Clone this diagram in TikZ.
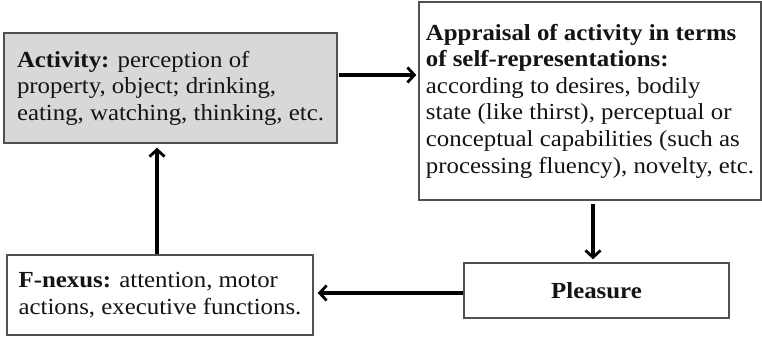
\documentclass[tikz,border=0pt]{standalone}
\usepackage{fontspec}
\setmainfont[FakeStretch=1.08]{Liberation Serif}
\usetikzlibrary{arrows.meta}
\definecolor{boxgray}{RGB}{216,216,216}
\definecolor{edgegray}{RGB}{80,80,80}
\definecolor{txt}{RGB}{20,20,20}
\tikzset{
  boxnode/.style={draw=edgegray, line width=1.4pt, align=left, inner sep=1pt,
    text=txt, font=\fontsize{23}{26.6}\selectfont},
  arr/.style={draw=black, line width=3.4pt, -{Straight Barb[length=7pt,width=15pt,line width=2.8pt]}}
}
\begin{document}
\begin{tikzpicture}[x=1pt,y=-1pt]
\useasboundingbox (0,0) rectangle (762,337);
\node[boxnode, fill=boxgray, minimum width=333pt, minimum height=110pt] (act) at (170.5,88)
  {\textbf{Activity:} perception of\\property, object; drinking,\\eating, watching, thinking, etc.};
\node[boxnode, fill=white, minimum width=342pt, minimum height=198pt] (app) at (590,101)
  {\textbf{Appraisal of activity in terms}\\\textbf{of self-representations:}\\according to desires, bodily\\state (like thirst), perceptual or\\conceptual capabilities (such as\\processing fluency), novelty, etc.};
\node[boxnode, fill=white, minimum width=265pt, minimum height=55pt] (ple) at (596.5,290.5)
  {\textbf{Pleasure}};
\node[boxnode, fill=white, minimum width=306pt, minimum height=80pt] (fnx) at (160,295)
  {\textbf{F-nexus:} attention, motor\\actions, executive functions.};
\coordinate (r1) at (0,75);
\coordinate (c2) at (593,0);
\coordinate (r3) at (0,293);
\coordinate (c4) at (157,0);
\draw[arr, shorten <=1pt, shorten >=2pt] (act.east |- r1) -- (app.west |- r1);
\draw[arr, shorten <=3pt, shorten >=3pt] (app.south -| c2) -- (ple.north -| c2);
\draw[arr, shorten >=4pt] (ple.west |- r3) -- (fnx.east |- r3);
\draw[arr, shorten >=4pt] (fnx.north -| c4) -- (act.south -| c4);
\end{tikzpicture}
\end{document}
